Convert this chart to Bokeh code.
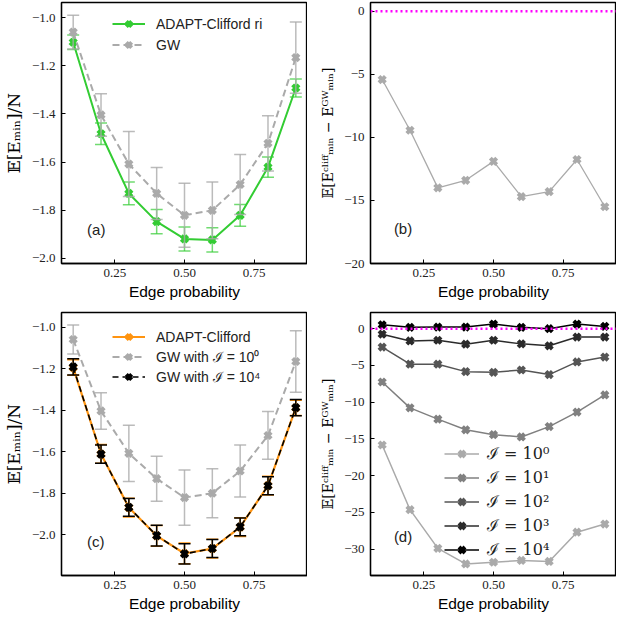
from bokeh.plotting import figure
from bokeh.layouts import column, row
from bokeh.models import (Range1d, FixedTicker, Legend, LegendItem, Span, Label,
                          ColumnDataSource, CustomJSTickFormatter)
from bokeh.embed import file_html
from bokeh.resources import INLINE

# ---------------- data ----------------
edge_p = [0.1, 0.2, 0.3, 0.4, 0.5, 0.6, 0.7, 0.8, 0.9]

# panel (a)
clifford_ri_mean = [-1.102, -1.482, -1.730, -1.847, -1.919, -1.923, -1.821, -1.621, -1.292]
clifford_ri_err = [0.030, 0.045, 0.047, 0.050, 0.050, 0.050, 0.045, 0.042, 0.037]
gw_mean = [-1.060, -1.404, -1.608, -1.730, -1.821, -1.800, -1.693, -1.522, -1.166]
gw_err = [0.070, 0.088, 0.135, 0.108, 0.133, 0.118, 0.125, 0.115, 0.148]

# panel (b)
diff_ri = [-5.41, -9.43, -14.0, -13.4, -11.9, -14.7, -14.3, -11.75, -15.5]

# panel (c)
clifford_mean = [-1.195, -1.611, -1.869, -2.005, -2.090, -2.067, -1.963, -1.763, -1.389]
clifford_err = [0.037, 0.045, 0.045, 0.050, 0.050, 0.045, 0.045, 0.045, 0.037]
gw_1e4_mean = [-1.192, -1.612, -1.868, -2.004, -2.092, -2.066, -1.962, -1.764, -1.388]
gw_1e4_err = [0.039, 0.044, 0.043, 0.050, 0.049, 0.043, 0.043, 0.043, 0.039]

# panel (d)
iter_labels = ["ℐ = 10⁰", "ℐ = 10¹", "ℐ = 10²", "ℐ = 10³", "ℐ = 10⁴"]
diff_1e0 = [-15.84, -24.64, -29.9, -32.03, -31.8, -31.55, -31.68, -27.7, -26.6]
diff_1e1 = [-7.26, -10.78, -12.32, -13.77, -14.43, -14.74, -13.33, -11.35, -9.02]
diff_1e2 = [-2.51, -4.84, -4.84, -5.85, -5.94, -5.63, -6.25, -4.53, -3.87]
diff_1e3 = [-0.75, -1.67, -1.58, -2.11, -1.58, -2.07, -2.33, -1.14, -1.14]
diff_1e4 = [0.53, 0.18, 0.22, 0.22, 0.62, 0.18, 0.0, 0.62, 0.31]

x_ticks = [0.25, 0.50, 0.75]
y_ticks_ac = [-2.0, -1.8, -1.6, -1.4, -1.2, -1.0]
y_ticks_b = [-20, -15, -10, -5, 0]
y_ticks_d = [-30, -25, -20, -15, -10, -5, 0]

# ---------------- styling helpers ----------------
SERIF = "Liberation Serif"
SANS = "Liberation Sans"
MATH = "DejaVu Serif"


def fmt(decimals):
    return CustomJSTickFormatter(code=f"""
        const s = Math.abs(tick).toFixed({decimals});
        return (tick < -1e-9 ? '\\u2212' : '') + s;
    """)


def make_fig(width, height, mbl, mbt, mbb, yr, yticks, ydec, ylabel, ylabel_size):
    p = figure(width=width, height=height, x_range=Range1d(0.058, 0.942),
               y_range=Range1d(*yr), output_backend="svg", toolbar_location=None,
               min_border_left=mbl, min_border_right=0, min_border_top=mbt,
               min_border_bottom=mbb)
    p.grid.visible = False
    p.outline_line_color = "black"
    p.outline_line_width = 1.3
    p.background_fill_color = "white"
    for ax in (p.xaxis[0], p.yaxis[0]):
        ax.major_tick_in = 4
        ax.major_tick_out = 0
        ax.minor_tick_in = 0
        ax.minor_tick_out = 0
        ax.axis_line_color = "black"
        ax.axis_line_width = 1.3
        ax.major_tick_line_color = "black"
        ax.major_label_text_font = SERIF
        ax.major_label_text_font_size = "13px"
        ax.major_label_text_color = "#222222"
        ax.axis_label_text_font_style = "normal"
        ax.axis_label_text_color = "black"
    p.xaxis.ticker = FixedTicker(ticks=x_ticks)
    p.xaxis.formatter = fmt(2)
    p.xaxis.axis_label = "Edge probability"
    p.xaxis.axis_label_text_font = SANS
    p.xaxis.axis_label_text_font_size = "15.5px"
    p.xaxis.major_label_standoff = 5
    p.xaxis.axis_label_standoff = 3
    p.yaxis.ticker = FixedTicker(ticks=yticks)
    p.yaxis.formatter = fmt(ydec)
    p.yaxis.axis_label = ylabel
    p.yaxis.axis_label_text_font = MATH
    p.yaxis.axis_label_text_font_size = ylabel_size
    p.yaxis.major_label_standoff = 6
    p.yaxis.axis_label_standoff = 5
    return p


def errbar(p, x, y, e, color, alpha=1.0, lw=1.5, cap=12):
    src = ColumnDataSource(dict(x=x, lo=[a - b for a, b in zip(y, e)],
                                hi=[a + b for a, b in zip(y, e)]))
    p.segment(x0="x", y0="lo", x1="x", y1="hi", source=src, line_color=color,
              line_alpha=alpha, line_width=lw)
    p.scatter(x="x", y="lo", source=src, marker="dash", size=cap, line_color=color,
              line_alpha=alpha, line_width=lw)
    p.scatter(x="x", y="hi", source=src, marker="dash", size=cap, line_color=color,
              line_alpha=alpha, line_width=lw)


def series(p, x, y, color, lw=2.0, dash="solid", msize=9, mlw=4.0):
    l = p.line(x, y, line_color=color, line_width=lw, line_dash=dash)
    s = p.scatter(x, y, marker="x", size=msize, line_color=color, line_width=mlw)
    return l, s


def panel_label(p, x, y, text):
    p.add_layout(Label(x=x, y=y, text=text, text_font=SANS, text_font_size="15px",
                       text_color="#222222", text_baseline="bottom"))


def legend(p, items, loc, gw, lh, sp, font, fsize, standoff):
    lg = Legend(items=items, location=loc, glyph_width=gw, glyph_height=lh,
                label_height=lh, spacing=sp, padding=4, margin=0,
                label_standoff=standoff, background_fill_alpha=0,
                border_line_alpha=0, label_text_font=font,
                label_text_font_size=fsize, label_text_color="#222222")
    p.add_layout(lg)


GREEN = "#33cc33"
GRAY = "#aaaaaa"
ORANGE = "#ff9410"
LBL_E = "𝔼[Eₘᵢₙ]/N"
LBL_D = "𝔼[Eᶜˡⁱᶠᶠₘᵢₙ − Eᴳᵂₘᵢₙ]"

# ---------------- panel (a) ----------------
pa = make_fig(307, 310, 56, 2, 47, (-2.021, -0.937), y_ticks_ac, 1, LBL_E, "17px")
errbar(pa, edge_p, clifford_ri_mean, clifford_ri_err, GREEN, alpha=0.7)
la1, sa1 = series(pa, edge_p, clifford_ri_mean, GREEN)
errbar(pa, edge_p, gw_mean, gw_err, GRAY, alpha=0.8)
la2, sa2 = series(pa, edge_p, gw_mean, GRAY, dash="7 4")
legend(pa, [LegendItem(label="ADAPT-Clifford ri", renderers=[la1, sa1]),
            LegendItem(label="GW", renderers=[la2, sa2])],
       (47, 205), 33, 19, 2, SANS, "14px", 11)
panel_label(pa, 0.15, -1.915, "(a)")

# ---------------- panel (b) ----------------
pb = make_fig(309, 310, 63, 2, 47, (-20, 0.7), y_ticks_b, 0, LBL_D, "14px")
pb.add_layout(Span(location=0, dimension="width", line_color="magenta",
                   line_width=2.5, line_dash="2 3"))
series(pb, edge_p, diff_ri, GRAY, lw=1.3)
panel_label(pb, 0.142, -17.9, "(b)")

# ---------------- panel (c) ----------------
pc = make_fig(307, 309, 56, 2, 44, (-2.196, -0.93), y_ticks_ac, 1, LBL_E, "17px")
errbar(pc, edge_p, gw_mean, gw_err, GRAY, alpha=0.8)
lc2, sc2 = series(pc, edge_p, gw_mean, GRAY, dash="7 4")
errbar(pc, edge_p, clifford_mean, clifford_err, ORANGE)
lc1, sc1 = series(pc, edge_p, clifford_mean, ORANGE, lw=2.2)
errbar(pc, edge_p, gw_1e4_mean, gw_1e4_err, "black")
lc3, sc3 = series(pc, edge_p, gw_1e4_mean, "black", lw=1.6, dash="6 4")
legend(pc, [LegendItem(label="ADAPT-Clifford", renderers=[lc1, sc1]),
            LegendItem(label="GW with ℐ = 10⁰", renderers=[lc2, sc2]),
            LegendItem(label="GW with ℐ = 10⁴", renderers=[lc3, sc3])],
       (47, 185), 33, 19, 1, SANS, "14px", 11)
panel_label(pc, 0.15, -2.075, "(c)")

# ---------------- panel (d) ----------------
pd_ = make_fig(309, 309, 63, 2, 44, (-33.6, 2.2), y_ticks_d, 0, LBL_D, "14px")
d_colors = ["#aaaaaa", "#808080", "#555555", "#2b2b2b", "#000000"]
d_series = [diff_1e0, diff_1e1, diff_1e2, diff_1e3, diff_1e4]
d_items = []
for lab, ys, col in zip(iter_labels, d_series, d_colors):
    l, s = series(pd_, edge_p, ys, col, lw=1.5)
    d_items.append(LegendItem(label=lab, renderers=[l, s]))
pd_.add_layout(Span(location=0, dimension="width", line_color="magenta",
                    line_width=2.5, line_dash="2 3"))
legend(pd_, d_items, (70, 11), 35, 21, 2, MATH, "16px", 8)
panel_label(pd_, 0.142, -29.5, "(d)")

layout = column(row(pa, pb), row(pc, pd_))
open("out.html", "w").write(file_html(layout, INLINE))
